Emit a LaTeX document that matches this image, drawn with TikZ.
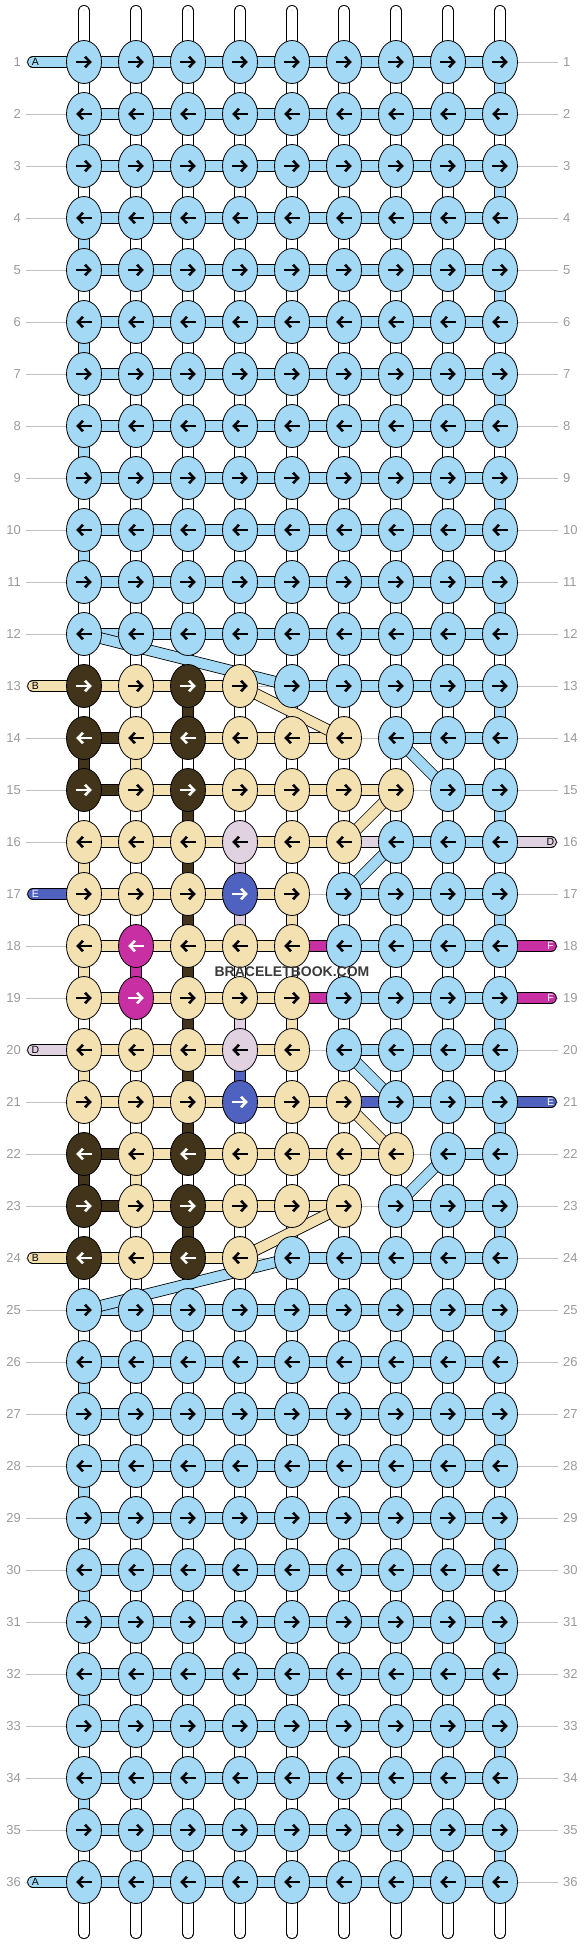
\documentclass[tikz,border=0pt]{standalone}
\usepackage{fontspec}
\newfontfamily\labelfont{Liberation Sans}
\usetikzlibrary{shapes.geometric,arrows.meta}

\pgfdeclarelayer{background}
\pgfsetlayers{background,main}

% thread colours
\definecolor{cA}{HTML}{A3D9F5}
\definecolor{cB}{HTML}{F4E1B2}
\definecolor{cC}{HTML}{41341A}
\definecolor{cD}{HTML}{E1D2E1}
\definecolor{cE}{HTML}{4F62C0}
\definecolor{cF}{HTML}{C82FA2}
% arrow colour on each thread colour
\colorlet{aA}{black}
\colorlet{aB}{black}
\colorlet{aC}{white}
\colorlet{aD}{black}
\colorlet{aE}{white}
\colorlet{aF}{white}
\definecolor{rowgray}{HTML}{BEBEBE}
\definecolor{numgray}{HTML}{9A9A9A}
\definecolor{markgray}{HTML}{3A3A3A}

% one row of knots: #1 = row, #2 = list of thread colours
\newcommand\knotrow[2]{%
  \foreach \k [count=\c] in #2 {
    \node[knot,fill=c\k] (k#1-\c) at ({84+52*(\c-1)},{62+52*(#1-1)}) {};
    \ifodd#1\relax \def\dir{1}\else \def\dir{-1}\fi
    \draw[knotarrow,color=a\k] ([xshift={-7.8*\dir}]k#1-\c.center) -- ([xshift={7.8*\dir}]k#1-\c.center);
  }%
}
\def\plainrow{A,A,A,A,A,A,A,A,A}

\begin{document}
\begin{tikzpicture}[x=1pt,y=-1pt,
    knot/.style={ellipse,draw=black,line width=0.8pt,minimum width=35pt,minimum height=43pt,inner sep=0pt},
    thread/.style={draw=black,line width=0.8pt,double=#1,double distance=10pt},
    tab/.style={thread=#1,line cap=round},
    basestrand/.style={draw=black,line width=0.8pt,double=white,double distance=10.4pt,line cap=round},
    stripe/.style={draw=gray!40,line width=0.6pt,double=white,double distance=1.5pt,line cap=round},
    knotarrow/.style={line width=2.6pt,-{Straight Barb[length=5pt,width=10.5pt]}},
    rownum/.style={font=\labelfont\fontsize{13}{15}\selectfont,text=numgray,inner xsep=5pt,inner ysep=0pt},
    tabletter/.style={font=\labelfont\fontsize{10.5}{12}\selectfont,inner sep=0pt}]

  \useasboundingbox (0,0) rectangle (584,1944);

  % draw the plain rows of knots
  \foreach \r in {1,...,12} {\knotrow{\r}{\plainrow}}
  \foreach \r in {25,...,36} {\knotrow{\r}{\plainrow}}

  % draw the rows with the motif
  \foreach \r/\cols in {
    13/{C,B,C,B,A,A,A,A,A},
    14/{C,B,C,B,B,B,A,A,A},
    15/{C,B,C,B,B,B,B,A,A},
    16/{B,B,B,D,B,B,A,A,A},
    17/{B,B,B,E,B,A,A,A,A},
    18/{B,F,B,B,B,A,A,A,A},
    19/{B,F,B,B,B,A,A,A,A},
    20/{B,B,B,D,B,A,A,A,A},
    21/{B,B,B,E,B,B,A,A,A},
    22/{C,B,C,B,B,B,B,A,A},
    23/{C,B,C,B,B,B,A,A,A},
    24/{C,B,C,B,A,A,A,A,A}} {\knotrow{\r}{\cols}}

  % row numbers on both sides
  \foreach \r in {1,...,36} {
    \node[rownum,anchor=east] (ln\r) at (26,{62+52*(\r-1)}) {\r};
    \node[rownum,anchor=west] (rn\r) at (558,{62+52*(\r-1)}) {\r};
  }

  % thread ends with their letters
  \foreach \r/\k in {1/A,13/B,17/E,20/D,24/B,36/A} {
    \coordinate (tl\r) at (33,{62+52*(\r-1)});
    \node[tabletter,text=a\k] (ll\r) at (35.5,{62+52*(\r-1)}) {\k};
  }
  \foreach \r/\k in {16/D,18/F,19/F,21/E} {
    \coordinate (tr\r) at (551,{62+52*(\r-1)});
    \node[tabletter,text=a\k] (lr\r) at (550.5,{62+52*(\r-1)}) {\k};
  }

  % watermark
  \node[font=\labelfont\bfseries\fontsize{14}{16}\selectfont,text=markgray] (mark) at (292,972) {BRACELETBOOK.COM};

  % ends of the base strands
  \foreach \c in {1,...,9} {
    \coordinate (top\c) at ({84+52*(\c-1)},11);
    \coordinate (bot\c) at ({84+52*(\c-1)},1933);
  }

  \begin{pgfonlayer}{background}
    % row guide lines
    \foreach \r in {1,...,36} \draw[rowgray,line width=0.8pt] (ln\r.east) -- (rn\r.west);

    % base strands
    \foreach \c in {1,...,9} {
      \draw[basestrand] (top\c) -- (bot\c);
      \draw[stripe] (top\c) -- (bot\c);
    }

    % turns of the A thread
    \foreach \r in {1,...,35} {
      \pgfmathtruncatemacro\nr{\r+1}
      \pgfmathtruncatemacro\tc{mod(\r,2)==1 ? 9 : 1}
      \ifnum\r<12 \draw[thread=cA] (k\r-\tc.center) -- (k\nr-\tc.center);\fi
      \ifnum\r>24 \draw[thread=cA] (k\r-\tc.center) -- (k\nr-\tc.center);\fi
    }

    % motif threads running down
    \foreach \r/\c/\k in {13/3/C,13/9/A,14/1/C,14/2/B,15/3/C,15/9/A,
      16/1/B,16/3/C,16/4/D,17/3/C,17/4/D,17/5/B,17/9/A,
      18/1/B,18/2/F,18/3/C,19/3/C,19/4/D,19/5/B,19/9/A,
      20/1/B,20/3/C,20/4/E,21/3/C,21/9/A,22/1/C,22/2/B,23/3/C,23/9/A} {
      \pgfmathtruncatemacro\nr{\r+1}
      \draw[thread=c\k] (k\r-\c.center) -- (k\nr-\c.center);
    }

    % horizontal threads
    \foreach \r in {1,...,12} \draw[thread=cA] (k\r-1.center) -- (k\r-9.center);
    \foreach \r in {25,...,36} \draw[thread=cA] (k\r-1.center) -- (k\r-9.center);
    \foreach \r/\p/\q/\k in {13/1/4/B,13/5/9/A,14/1/2/C,14/2/6/B,14/7/9/A,
      15/1/2/C,15/2/7/B,15/8/9/A,16/1/6/B,16/6/7/D,16/7/9/A,
      17/1/5/B,17/6/9/A,18/1/5/B,18/5/6/F,18/6/9/A,19/1/5/B,19/5/6/F,19/6/9/A,
      20/1/5/B,20/6/9/A,21/1/6/B,21/6/7/E,21/7/9/A,
      22/1/2/C,22/2/7/B,22/8/9/A,23/1/2/C,23/2/6/B,23/7/9/A,24/1/4/B,24/5/9/A}
      \draw[thread=c\k] (k\r-\p.center) -- (k\r-\q.center);

    % threads carried across on the slant
    \foreach \r/\p/\s/\q/\k in {12/1/13/5/A,13/4/14/6/B,14/7/15/8/A,15/7/16/6/B,
      16/7/17/6/A,20/6/21/7/A,21/6/22/7/B,22/8/23/7/A,23/6/24/4/B,24/5/25/1/A}
      \draw[thread=c\k] (k\r-\p.center) -- (k\s-\q.center);

    % thread ends
    \foreach \r/\k in {1/A,13/B,17/E,20/D,24/B,36/A} \draw[tab=c\k] (tl\r) -- (k\r-1.center);
    \foreach \r/\k in {16/D,18/F,19/F,21/E} \draw[tab=c\k] (k\r-9.center) -- (tr\r);
  \end{pgfonlayer}

\end{tikzpicture}
\end{document}
